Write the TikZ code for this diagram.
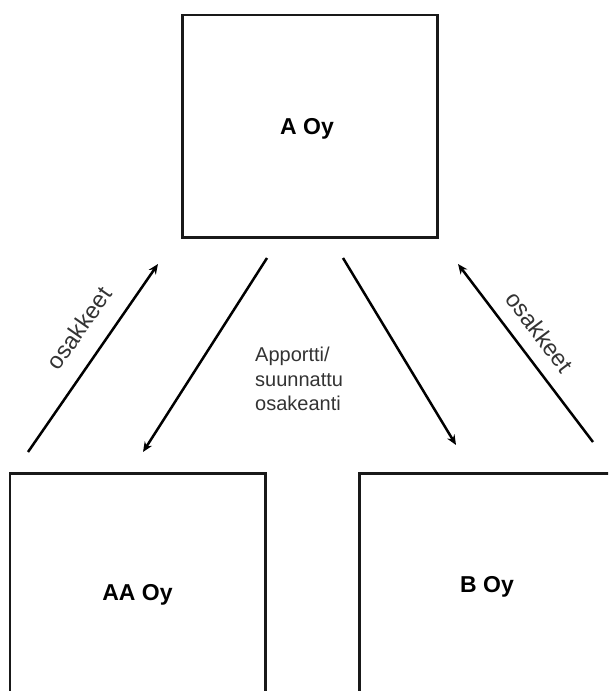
\documentclass[tikz,border=0pt]{standalone}
\usepackage{fontspec}
\setmainfont{Liberation Sans}
\usetikzlibrary{arrows.meta}
\begin{document}
\begin{tikzpicture}[x=1pt,y=-1pt,
  company/.style={draw=black!90, line width=2.5pt, rectangle, inner sep=0pt},
  coname/.style={font=\fontsize{23}{27}\selectfont\bfseries, text=black, inner sep=0pt},
  flow/.style={line width=2.5pt, black, -{Stealth[length=10pt,width=8.5pt]}},
  note/.style={text=black!80, inner sep=0pt},
]
\useasboundingbox (0,0) rectangle (608,691);
\clip (0,0) rectangle (608,691);

% companies
\node[company, minimum width=255pt, minimum height=222.5pt] (aoy) at (310,126.25) {};
\node[coname] (aoyt) at (307,129) {A Oy};
\node[company, minimum width=255.5pt, minimum height=260pt] (aaoy) at (137.75,603.5) {};
\node[coname] (aaoyt) at (137.5,595) {AA Oy};
\node[company, minimum width=270pt, minimum height=260pt] (boy) at (494.5,603.5) {};
\node[coname] (boyt) at (487,587) {B Oy};

% arrow end points
\coordinate (l1) at (28,452);   \coordinate (l2) at (158,264);
\coordinate (m1) at (267,258);  \coordinate (m2) at (143,452);
\coordinate (n1) at (343,258);  \coordinate (n2) at (456,445);
\coordinate (r1) at (593,442);  \coordinate (r2) at (458,264);

\draw[flow] (l1) -- (l2);
\draw[flow] (m1) -- (m2);
\draw[flow] (n1) -- (n2);
\draw[flow] (r1) -- (r2);

% labels
\node[note, rotate=55, font=\fontsize{23.5}{28}\selectfont] (lbl) at (79,328) {osakkeet};
\node[note, rotate=-53, font=\fontsize{23.5}{28}\selectfont] (lbr) at (540,332) {osakkeet};
\node[note, align=left, anchor=north west, font=\fontsize{20}{24.5}\selectfont] (mid) at (255,347)
  {Apportti/\\suunnattu\\osakeanti};
\end{tikzpicture}
\end{document}
